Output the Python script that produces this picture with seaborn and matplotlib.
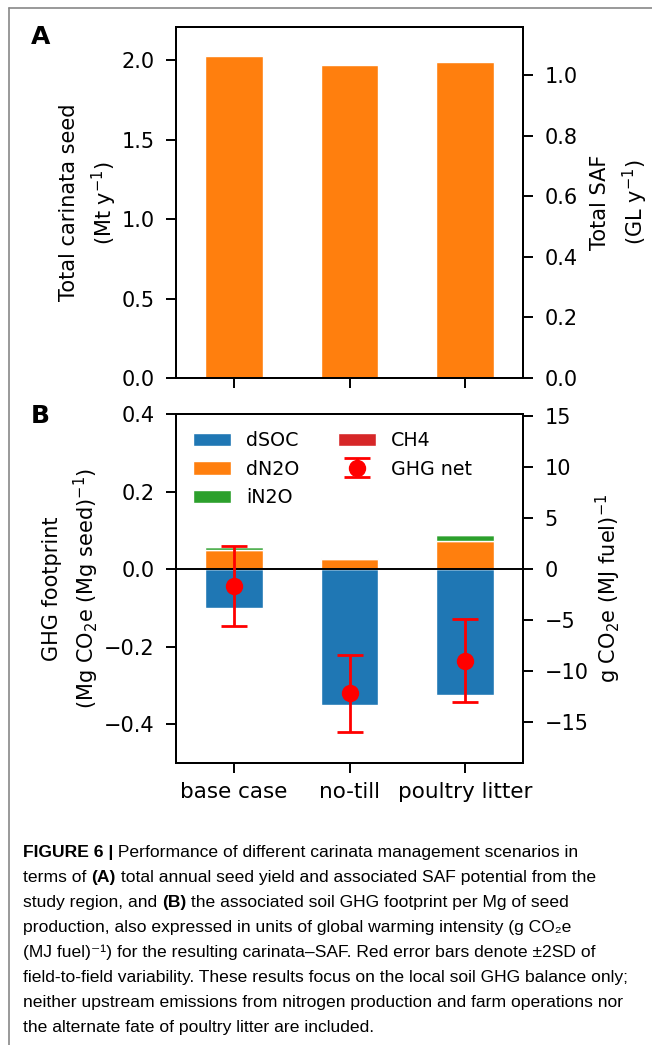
import numpy as np
import matplotlib
matplotlib.use("Agg")
import matplotlib.pyplot as plt
import seaborn as sns
import pandas as pd

# scenarios
scenarios = ["base case", "no-till", "poultry litter"]

# panel A: total seed (Mt/y)
seed_total = [2.03, 1.97, 1.99]
seed_to_saf = 1.908  # Mt seed -> GL SAF ratio (right axis scale)

# panel B: GHG footprint components (Mg CO2e per Mg seed)
dsoc = [-0.100, -0.350, -0.325]
dn2o = [0.050, 0.025, 0.073]
in2o = [0.007, 0.004, 0.015]
ch4 = [0.0005, 0.0005, 0.0005]
ghg_err = [0.103, 0.100, 0.107]
mg_to_gmj = 38.1  # Mg CO2e/Mg seed -> g CO2e/MJ fuel

ghg_net = [a + b + c + d for a, b, c, d in zip(dsoc, dn2o, in2o, ch4)]

sns.set_style("ticks", {"axes.edgecolor": "black", "text.color": "black",
                        "xtick.color": "black", "ytick.color": "black",
                        "axes.labelcolor": "black"})
plt.rcParams["font.family"] = ["DejaVu Sans"]
plt.rcParams["axes.linewidth"] = 1.4
plt.rcParams["xtick.major.width"] = 1.4
plt.rcParams["ytick.major.width"] = 1.4
plt.rcParams["xtick.major.size"] = 7
plt.rcParams["ytick.major.size"] = 7
plt.rcParams["ytick.major.pad"] = 8.5

FS = 15
colors = sns.color_palette("tab10")

fig = plt.figure(figsize=(6.52, 10.45), dpi=100)
W, H = 652, 1045


def ax_box(l, t, r, b):
    return [l / W, 1 - b / H, (r - l) / W, (b - t) / H]


# ---- panel A ----
axA = fig.add_axes(ax_box(176, 27, 523, 378))
dfA = pd.DataFrame({"scenario": scenarios, "seed": seed_total})
sns.barplot(data=dfA, x="scenario", y="seed", color=colors[1], saturation=1,
            width=0.5, ax=axA)
axA.set_xlim(-0.5, 2.5)
axA.set_ylim(0, 2.21)
axA.set_yticks([0, 0.5, 1.0, 1.5, 2.0])
axA.set_xlabel("")
axA.set_xticklabels([])
axA.set_ylabel("Total carinata seed\n(Mt y$^{-1}$)", fontsize=FS,
               linespacing=1.45, labelpad=2)
axA.tick_params(labelsize=FS)
axA2 = axA.twinx()
axA2.set_ylim(0, 2.21 / seed_to_saf)
axA2.set_yticks([0, 0.2, 0.4, 0.6, 0.8, 1.0])
axA2.set_ylabel("Total SAF\n(GL y$^{-1}$)", fontsize=FS, linespacing=1.45,
                labelpad=9)
axA2.tick_params(labelsize=FS)

# ---- panel B ----
axB = fig.add_axes(ax_box(176, 414, 523, 763))
x = np.arange(len(scenarios))
bw = 0.5
axB.bar(x, dsoc, width=bw, color=colors[0], label="dSOC")
axB.bar(x, dn2o, width=bw, color=colors[1], label="dN2O")
bottom2 = np.array(dn2o)
axB.bar(x, in2o, width=bw, bottom=bottom2, color=colors[2], label="iN2O")
bottom3 = bottom2 + np.array(in2o)
axB.bar(x, ch4, width=bw, bottom=bottom3, color=colors[3], label="CH4")
axB.axhline(0, color="black", lw=1.4)
axB.errorbar(x, ghg_net, yerr=ghg_err, fmt="o", color="red", ms=11.5,
             capsize=9.5, elinewidth=2, capthick=2, label="GHG net", zorder=5)
axB.set_xlim(-0.5, 2.5)
axB.set_ylim(-0.5, 0.4)
axB.set_yticks([-0.4, -0.2, 0.0, 0.2, 0.4])
axB.set_xticks(x)
axB.set_xticklabels(scenarios)
axB.tick_params(labelsize=FS)
axB.tick_params(axis="x", labelsize=FS + 0.5, pad=7)
axB.set_ylabel("GHG footprint\n(Mg CO$_2$e (Mg seed)$^{-1}$)", fontsize=FS,
               linespacing=1.45, labelpad=2)
axB.legend(loc="upper left", ncol=2, frameon=False, fontsize=13.7)
axB2 = axB.twinx()
axB2.set_ylim(-0.5 * mg_to_gmj, 0.4 * mg_to_gmj)
axB2.set_yticks([-15, -10, -5, 0, 5, 10, 15])
axB2.set_ylabel("g CO$_2$e (MJ fuel)$^{-1}$", fontsize=FS, labelpad=4)
axB2.tick_params(labelsize=FS)

# panel letters
fig.text(31 / W, 1 - 37 / H, "A", fontsize=18, fontweight="bold", va="center")
fig.text(31 / W, 1 - 416 / H, "B", fontsize=18, fontweight="bold", va="center")

# frame lines (page border)
fig.add_artist(plt.Line2D([9 / W, 9 / W], [0, 1 - 8 / H], color="#888888",
                          lw=1.2, transform=fig.transFigure))
fig.add_artist(plt.Line2D([9 / W, 1], [1 - 8 / H, 1 - 8 / H], color="#888888",
                          lw=1.2, transform=fig.transFigure))

# caption
cap_fam = ["Liberation Sans", "DejaVu Sans"]
cap_fs = 12.6
caption = [
    [("FIGURE 6 |", "bold"), (" Performance of different carinata management scenarios in", "normal")],
    [("terms of ", "normal"), ("(A)", "bold"), (" total annual seed yield and associated SAF potential from the", "normal")],
    [("study region, and ", "normal"), ("(B)", "bold"), (" the associated soil GHG footprint per Mg of seed", "normal")],
    [("production, also expressed in units of global warming intensity (g CO\u2082e", "normal")],
    [("(MJ fuel)\u207b\u00b9) for the resulting carinata\u2013SAF. Red error bars denote \u00b12SD of", "normal")],
    [("field-to-field variability. These results focus on the local soil GHG balance only;", "normal")],
    [("neither upstream emissions from nitrogen production and farm operations nor", "normal")],
    [("the alternate fate of poultry litter are included.", "normal")],
]
renderer = fig.canvas.get_renderer()
y0, dy = 852, 25.1
for i, line in enumerate(caption):
    xp = 23.0
    yp = 1 - (y0 + i * dy) / H
    for txt, wt in line:
        t = fig.text(xp / W, yp, txt, fontsize=cap_fs, fontweight=wt,
                     family=cap_fam, va="center", ha="left", color="black")
        bb = t.get_window_extent(renderer=renderer)
        xp += bb.width

fig.savefig("out.png", dpi=100)
